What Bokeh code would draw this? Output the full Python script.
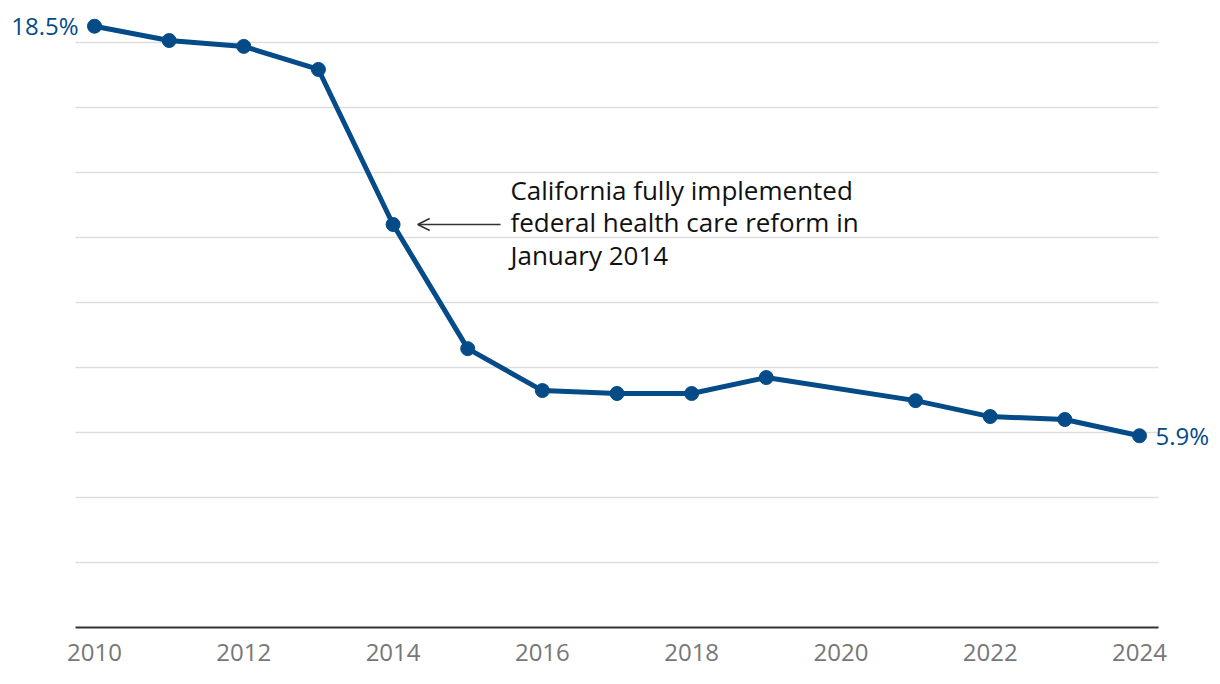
from bokeh.plotting import figure
from bokeh.models import FixedTicker, Label, Arrow, OpenHead, Range1d
from bokeh.embed import file_html
from bokeh.resources import INLINE

years = [2010, 2011, 2012, 2013, 2014, 2015, 2016, 2017, 2018, 2019, 2021, 2022, 2023, 2024]
rates = [18.5, 18.06, 17.88, 17.17, 12.4, 8.58, 7.29, 7.2, 7.2, 7.69, 6.98, 6.49, 6.4, 5.9]
x_ticks = [2010, 2012, 2014, 2016, 2018, 2020, 2022, 2024]
grid_ticks = [2, 4, 6, 8, 10, 12, 14, 16, 18]
note_lines = "California fully implemented\nfederal health care reform in\nJanuary 2014"

BLUE = "#044b87"
FONT = "Open Sans"

# layout extents in data units
X_LO, X_HI = 2008.7406, 2025.0852      # full canvas width
G_LO, G_HI = 2009.7454, 2024.2546      # extent of gridlines / axis line

p = figure(width=1220, height=684, output_backend="svg", toolbar_location=None,
           x_range=Range1d(X_LO, X_HI), y_range=Range1d(0, 19.292),
           min_border_left=0, min_border_right=0, min_border_top=0, min_border_bottom=57)
p.outline_line_color = None
p.background_fill_color = "white"
p.border_fill_color = "white"

p.yaxis.visible = False
p.xgrid.visible = False
p.ygrid.visible = False

# horizontal gridlines limited to the plotting area
p.segment(x0=G_LO, x1=G_HI, y0=grid_ticks, y1=grid_ticks, line_color="#dddddd", line_width=1.5)

xa = p.xaxis[0]
xa.ticker = FixedTicker(ticks=x_ticks)
xa.bounds = (G_LO, G_HI)
xa.axis_line_color = "#333333"
xa.axis_line_width = 2
xa.major_tick_line_color = None
xa.minor_tick_line_color = None
xa.major_label_text_font = FONT
xa.major_label_text_font_size = "24px"
xa.major_label_text_color = "#777777"
xa.major_label_standoff = 10

p.line(years, rates, line_color=BLUE, line_width=5)
p.scatter(years, rates, size=14, fill_color=BLUE, line_color=BLUE)

p.add_layout(Label(x=years[0], y=rates[0], text=f"{rates[0]}%", x_offset=-16, y_offset=1,
                   text_align="right", text_baseline="middle", text_font=FONT,
                   text_font_size="24px", text_color=BLUE))
p.add_layout(Label(x=years[-1], y=rates[-1], text=f"{rates[-1]}%", x_offset=16,
                   text_align="left", text_baseline="middle", text_font=FONT,
                   text_font_size="24px", text_color=BLUE))

i14 = years.index(2014)
p.add_layout(Arrow(x_start=years[i14] + 1.44, y_start=rates[i14], x_end=years[i14] + 0.33, y_end=rates[i14],
                   line_color="#333333", line_width=1.5,
                   end=OpenHead(size=12, line_color="#333333", line_width=1.5)))
p.add_layout(Label(x=years[i14] + 1.573, y=rates[i14], text=note_lines, y_offset=2,
                   text_align="left", text_baseline="middle", text_font=FONT,
                   text_font_size="26px", text_color="#111111", text_line_height=0.9))

open("out.html", "w").write(file_html(p, INLINE))
